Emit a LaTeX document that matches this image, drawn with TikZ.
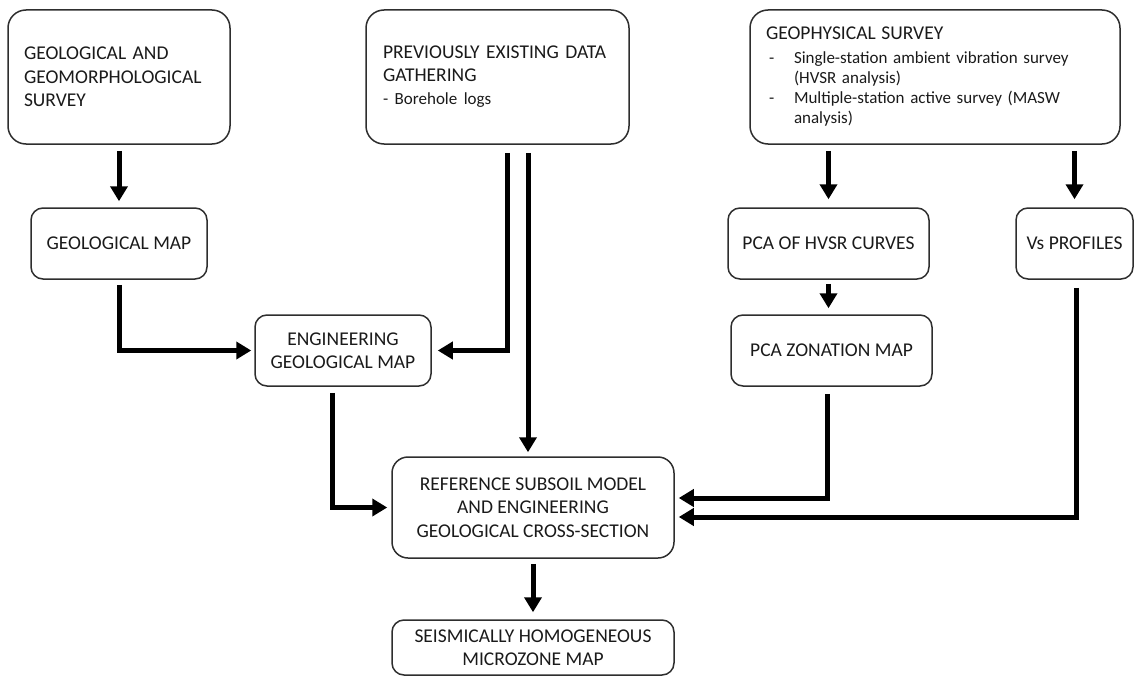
\documentclass[tikz,border=0pt]{standalone}
\usepackage{fontspec}
\setmainfont{Carlito}
\usetikzlibrary{arrows.meta}
\definecolor{edge}{HTML}{2E2E2E}
\definecolor{ink}{HTML}{1A1A1A}
\begin{document}
\begin{tikzpicture}[x=1pt,y=-1pt,
  bigbox/.style={draw=edge, line width=1.5pt, rounded corners=18pt, minimum height=134pt,
    align=left, inner xsep=16pt, inner ysep=0pt, text=ink,
    font=\fontsize{19.5}{23.5}\selectfont},
  cbox/.style={draw=edge, line width=1.5pt, rounded corners=12pt, align=center,
    inner sep=0pt, text=ink, font=\fontsize{19.5}{23.5}\selectfont},
  arr/.style={line width=5pt, draw=black, -{Triangle[length=15pt,width=17pt]}}]
\useasboundingbox (0,0) rectangle (1137,677);

% top row
\node[bigbox, text width=190pt] (b1) at (119,77)
  {GEOLOGICAL AND\\GEOMORPHOLOGICAL\\SURVEY};
\node[bigbox, text width=229pt, inner xsep=17pt, font=\fontsize{19.5}{23}\selectfont] (b2) at (497.5,77)
  {PREVIOUSLY EXISTING DATA\\GATHERING\\{\fontsize{17}{23}\selectfont - Borehole logs}};
\node[bigbox, text width=338pt, font=\fontsize{17}{20}\selectfont] (b3) at (935,77)
  {{\fontsize{19.5}{23.5}\selectfont GEOPHYSICAL SURVEY}\\[4pt]
   \hspace*{3pt}\makebox[25pt][l]{-}Single-station ambient vibration survey\\
   \hspace*{28pt}(HVSR analysis)\\
   \hspace*{3pt}\makebox[25pt][l]{-}Multiple-station active survey (MASW\\
   \hspace*{28pt}analysis)};

% second row
\node[cbox, minimum width=176pt, minimum height=71pt] (geo) at (119,243.5) {GEOLOGICAL MAP};
\node[cbox, minimum width=201pt, minimum height=71pt] (pca) at (828.5,243.5) {PCA OF HVSR CURVES};
\node[cbox, minimum width=117pt, minimum height=71pt] (vs) at (1074.5,243.5) {Vs PROFILES};

% third row
\node[cbox, minimum width=176pt, minimum height=71pt] (eng) at (343,350.5) {ENGINEERING\\GEOLOGICAL MAP};
\node[cbox, minimum width=201pt, minimum height=71pt] (zon) at (831.5,350.5) {PCA ZONATION MAP};

% bottom
\node[cbox, rounded corners=16pt, minimum width=282pt, minimum height=101pt] (ref) at (533,507.5)
  {REFERENCE SUBSOIL MODEL\\AND ENGINEERING\\GEOLOGICAL CROSS-SECTION};
\node[cbox, minimum width=282pt, minimum height=55pt] (seis) at (533,647.5)
  {SEISMICALLY HOMOGENEOUS\\MICROZONE MAP};

% connectors
\draw[arr, shorten <=6pt, shorten >=6pt] (b1.south) -- (b1.south |- geo.north);
\draw[arr, shorten >=3pt] ([yshift=-5pt]geo.south) |- (eng.west);
\coordinate (b2l) at ([xshift=9.5pt,yshift=-8pt]b2.south);
\coordinate (b2r) at ([xshift=30.5pt,yshift=-8pt]b2.south);
\draw[arr, shorten >=6pt] (b2l) |- (eng.east);
\draw[arr, shorten >=4pt] (b2r) -- (b2r |- ref.north);
\draw[arr, shorten >=4pt] ([xshift=-11pt,yshift=-6pt]eng.south) |- (ref.west);
\draw[arr, shorten <=6pt, shorten >=8pt] (pca.north |- b3.south) -- (pca.north);
\draw[arr, shorten <=6pt, shorten >=8pt] (vs.north |- b3.south) -- (vs.north);
\draw[arr, shorten <=4pt, shorten >=6pt] (pca.south) -- (pca.south |- zon.north);
\draw[arr, shorten >=4pt] ([xshift=-4.5pt,yshift=-7pt]zon.south) |- ([yshift=9.5pt]ref.east);
\draw[arr, shorten >=4pt] ([xshift=1.5pt,yshift=-8pt]vs.south) |- ([yshift=-9.5pt]ref.east);
\draw[arr, shorten <=5pt, shorten >=7pt] (ref.south) -- (ref.south |- seis.north);
\end{tikzpicture}
\end{document}
